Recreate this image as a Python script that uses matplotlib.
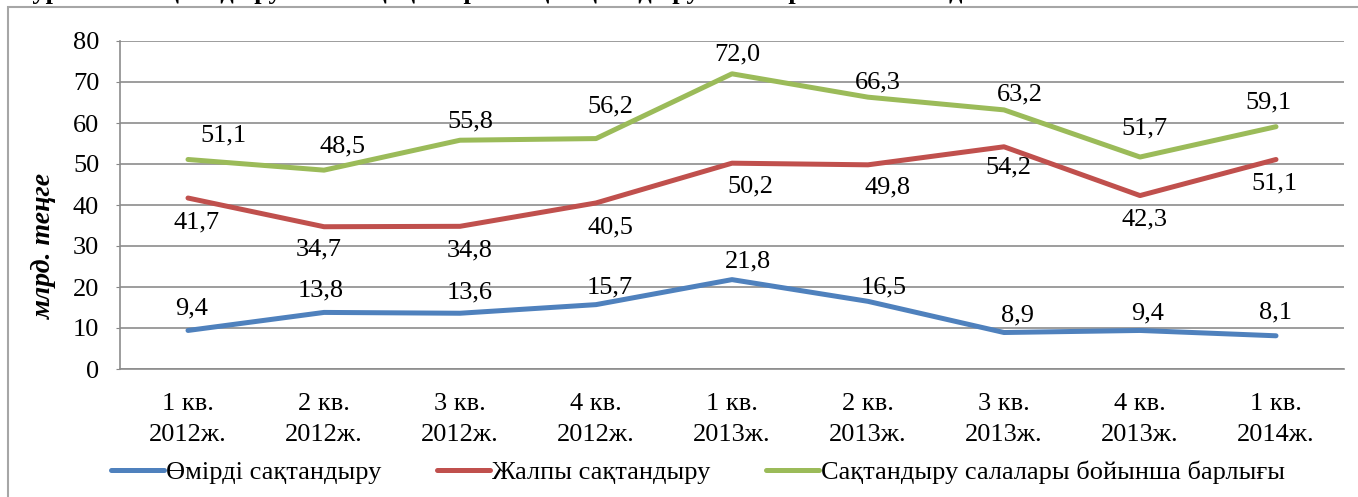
import matplotlib
matplotlib.use("Agg")
import matplotlib.pyplot as plt
from matplotlib.patches import Rectangle

plt.rcParams['font.family'] = ['Liberation Serif', 'DejaVu Serif']

# data
quarters = ["1 кв.\n2012ж.", "2 кв.\n2012ж.", "3 кв.\n2012ж.", "4 кв.\n2012ж.",
            "1 кв.\n2013ж.", "2 кв.\n2013ж.", "3 кв.\n2013ж.", "4 кв.\n2013ж.",
            "1 кв.\n2014ж."]
life = [9.4, 13.8, 13.6, 15.7, 21.8, 16.5, 8.9, 9.4, 8.1]
general = [41.7, 34.7, 34.8, 40.5, 50.2, 49.8, 54.2, 42.3, 51.1]
total = [51.1, 48.5, 55.8, 56.2, 72.0, 66.3, 63.2, 51.7, 59.1]

names = ["Өмірді сақтандыру", "Жалпы сақтандыру", "Сақтандыру салалары бойынша барлығы"]
colors = ["#4F81BD", "#C0504D", "#9BBB59"]

# label offsets in pixels (dx, dy), hand tuned like the original
off_life = [(4, 22), (-3, 22), (10, 21), (14, 17), (16, 18), (16, 14), (14, 17), (8, 17), (0, 23)]
off_gen = [(9, -24), (-5, -23), (10, -24), (14, -25), (18, -23), (20, -23), (4, -21), (4, -24), (-2, -24)]
off_tot = [(35, 24), (19, 24), (10, 19), (14, 32), (5, 19), (10, 15), (16, 15), (4, 29), (-8, 24)]

FS = 19

fig = plt.figure(figsize=(13.58, 4.97), dpi=100)
ax = fig.add_axes([120/1358, 1-369/497, 1224/1358, 328/497])

x = range(len(quarters))
series = [(life, off_life), (general, off_gen), (total, off_tot)]
for (vals, offs), name, c in zip(series, names, colors):
    ax.plot(x, vals, color=c, lw=3.6, solid_capstyle='round', label=name)
    for i, v in enumerate(vals):
        ax.annotate(f"{v:.1f}".replace('.', ','), (i, v), xytext=offs[i],
                    textcoords='offset pixels', ha='center', va='center',
                    fontsize=FS, color='black')

ax.set_xlim(-0.5, len(quarters) - 0.5)
ax.set_ylim(0, 80)
ax.set_yticks(range(0, 81, 10))
ax.set_xticks(list(x))
ax.set_xticklabels(quarters, fontsize=FS, linespacing=1.55)
ax.tick_params(axis='y', labelsize=FS, length=3, color='#868686', pad=12)
ax.tick_params(axis='x', length=0, pad=17)
ax.grid(axis='y', color='#8c8c8c', lw=1.2)
ax.set_axisbelow(True)
for s in ['top', 'right']:
    ax.spines[s].set_visible(False)
for s in ['left', 'bottom']:
    ax.spines[s].set_color('#8c8c8c')
    ax.spines[s].set_linewidth(1.2)

fig.text(44/1358, 1-246/497, "млрд. теңге", rotation=90, ha='center', va='center',
         fontsize=20, fontweight='bold', fontstyle='italic')

fig.legend(loc='center', bbox_to_anchor=(698/1358, 1-472/497), ncol=3, frameon=False,
           fontsize=FS, handlelength=2.0, handletextpad=0.08, columnspacing=2.1,
           borderpad=0.2)

# outer frame of the chart
fig.patches.append(Rectangle((8/1358, -0.1), 1.2, 1.1 - 7/497, transform=fig.transFigure,
                             fill=False, edgecolor='#a6a6a6', lw=1.5))

# title, cut off at the top of the picture (only descenders show)
fig.text(0.01, 1 + 1/497, "Сурет 2 – Сақтандыру сыйлықақыларының сақтандыру салалары бойынша динамикасы",
         ha='left', va='baseline', fontsize=FS, fontweight='bold')

fig.savefig("out.png", dpi=100)
